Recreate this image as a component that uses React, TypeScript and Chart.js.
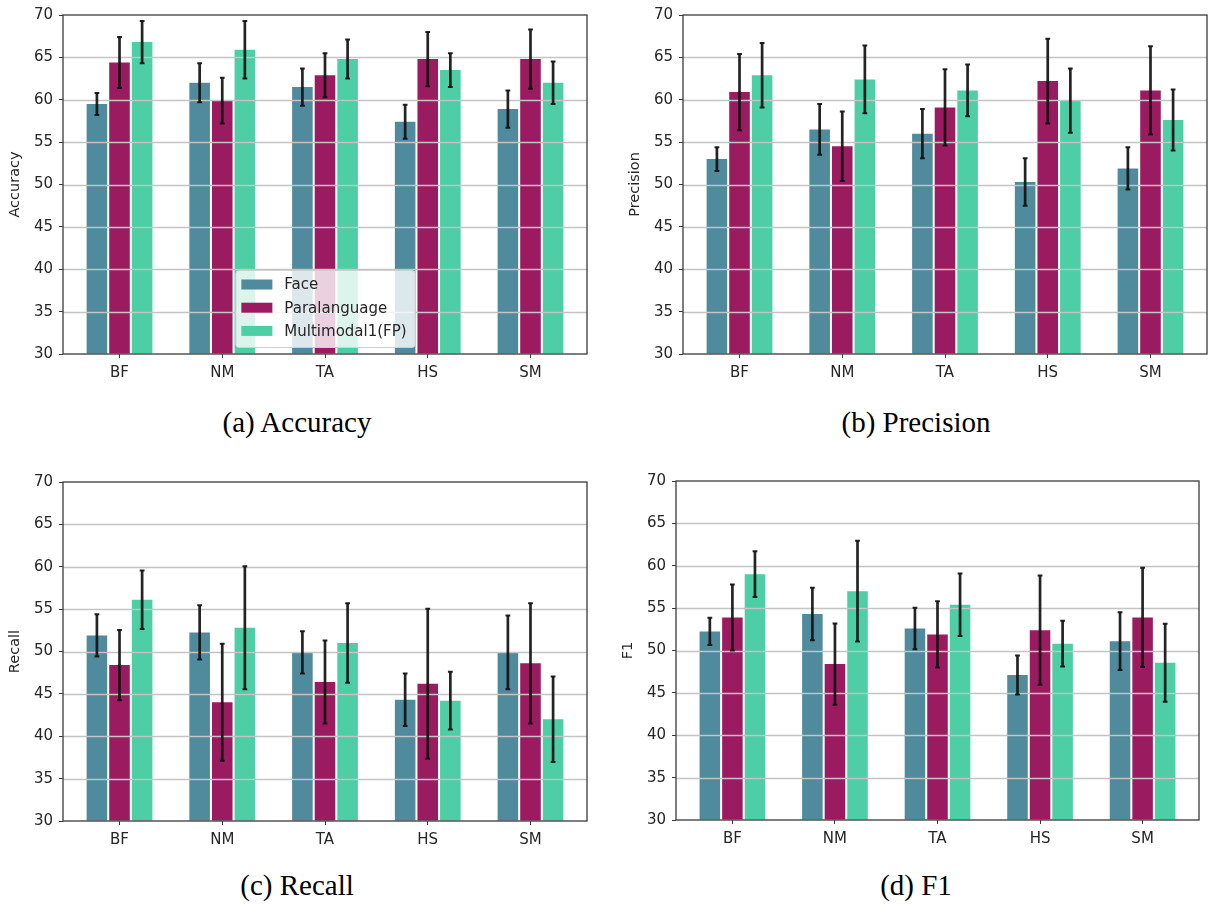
import React, { useEffect, useRef } from "react";
import { Chart, registerables } from "chart.js";

Chart.register(...registerables);

// ---- shared labels ----
const categories = ["BF", "NM", "TA", "HS", "SM"];
const seriesNames = ["Face", "Paralanguage", "Multimodal1(FP)"];
const seriesColors = ["#4f8a9d", "#9b1b60", "#4dcea4"];
const yMin = 30;
const yMax = 70;
const yStep = 5;

// ---- Accuracy ----
const accFace = [59.5, 62.0, 61.5, 57.4, 58.9];
const accFaceErr = [1.3, 2.3, 2.2, 2.0, 2.2];
const accPara = [64.4, 59.9, 62.9, 64.8, 64.8];
const accParaErr = [3.0, 2.7, 2.6, 3.2, 3.5];
const accMulti = [66.8, 65.9, 64.8, 63.5, 62.0];
const accMultiErr = [2.5, 3.4, 2.3, 2.0, 2.5];

// ---- Precision ----
const precFace = [53.0, 56.5, 56.0, 50.3, 51.9];
const precFaceErr = [1.4, 3.0, 2.9, 2.8, 2.5];
const precPara = [60.9, 54.5, 59.1, 62.2, 61.1];
const precParaErr = [4.5, 4.1, 4.5, 5.0, 5.2];
const precMulti = [62.9, 62.4, 61.1, 59.9, 57.6];
const precMultiErr = [3.8, 4.0, 3.05, 3.8, 3.6];

// ---- Recall ----
const recFace = [51.9, 52.25, 49.9, 44.3, 49.9];
const recFaceErr = [2.5, 3.2, 2.5, 3.1, 4.35];
const recPara = [48.4, 44.0, 46.4, 46.2, 48.6];
const recParaErr = [4.15, 6.9, 4.9, 8.85, 7.1];
const recMulti = [56.1, 52.8, 51.0, 44.2, 42.0];
const recMultiErr = [3.45, 7.25, 4.7, 3.4, 5.05];

// ---- F1 ----
const f1Face = [52.25, 54.3, 52.6, 47.1, 51.1];
const f1FaceErr = [1.6, 3.1, 2.45, 2.3, 3.4];
const f1Para = [53.9, 48.4, 51.9, 52.4, 53.9];
const f1ParaErr = [3.9, 4.8, 3.9, 6.45, 5.85];
const f1Multi = [59.0, 57.0, 55.4, 50.8, 48.55];
const f1MultiErr = [2.7, 5.95, 3.7, 2.7, 4.6];

const TEXT = "#262626";
const SANS = "'DejaVu Sans', sans-serif";
const Y_AXIS_W = 63;
const X_AXIS_H = 41;
const PAD_TOP = 14;
const PAD_RIGHT = 6;

type Area = { l: number; t: number; r: number; b: number };

type PanelProps = {
  yLabel: string;
  values: number[][];
  errors: number[][];
  area: Area;
  showLegend?: boolean;
};

function Panel({ yLabel, values, errors, area, showLegend }: PanelProps) {
  const ref = useRef<HTMLCanvasElement | null>(null);
  const left = area.l - Y_AXIS_W;
  const top = area.t - PAD_TOP;
  const width = area.r - area.l + Y_AXIS_W + PAD_RIGHT;
  const height = area.b - area.t + PAD_TOP + X_AXIS_H;

  useEffect(() => {
    if (!ref.current) return;

    const decor = {
      id: "panelDecor",
      afterDatasetsDraw(chart: any) {
        const { ctx, chartArea: a } = chart;
        const ys = chart.scales.y;
        ctx.save();
        // horizontal grid, drawn over the bars
        ctx.strokeStyle = "#c4c4c4";
        ctx.lineWidth = 1.5;
        for (let v = yMin + yStep; v < yMax; v += yStep) {
          const py = Math.round(ys.getPixelForValue(v)) + 0.5;
          ctx.beginPath();
          ctx.moveTo(a.left, py);
          ctx.lineTo(a.right, py);
          ctx.stroke();
        }
        // error bars with small caps
        ctx.strokeStyle = "rgba(17,17,17,0.92)";
        errors.forEach((errArr, di) => {
          const meta = chart.getDatasetMeta(di);
          meta.data.forEach((bar: any, i: number) => {
            const v = values[di][i];
            const e = errArr[i];
            const x = bar.x;
            const y1 = ys.getPixelForValue(v + e);
            const y2 = ys.getPixelForValue(v - e);
            ctx.lineWidth = 2.7;
            ctx.beginPath();
            ctx.moveTo(x, y1);
            ctx.lineTo(x, y2);
            ctx.stroke();
            ctx.lineWidth = 2;
            ctx.beginPath();
            ctx.moveTo(x - 2.4, y1);
            ctx.lineTo(x + 2.4, y1);
            ctx.moveTo(x - 2.4, y2);
            ctx.lineTo(x + 2.4, y2);
            ctx.stroke();
          });
        });
        // axes frame
        ctx.strokeStyle = "#3a3a3a";
        ctx.lineWidth = 1.3;
        ctx.strokeRect(a.left, a.top, a.right - a.left, a.bottom - a.top);
        ctx.restore();
      },
      afterDraw(chart: any) {
        if (!showLegend) return;
        const { ctx, chartArea: a } = chart;
        ctx.save();
        ctx.font = `15px ${SANS}`;
        const textW = Math.max(...seriesNames.map((n) => ctx.measureText(n).width));
        const padL = 6;
        const swW = 31;
        const swH = 10;
        const gap = 12;
        const boxW = padL + swW + gap + textW + 8;
        const rowH = 23.2;
        const boxH = 77;
        const bx = (a.left + a.right) / 2 - boxW / 2;
        const by = a.bottom - 7 - boxH;
        ctx.fillStyle = "rgba(255,255,255,0.8)";
        ctx.strokeStyle = "#d0d0d0";
        ctx.lineWidth = 1;
        ctx.beginPath();
        (ctx as any).roundRect(bx + 0.5, by + 0.5, boxW, boxH, 3);
        ctx.fill();
        ctx.stroke();
        seriesNames.forEach((name, i) => {
          const cy = by + 14.5 + i * rowH;
          ctx.fillStyle = seriesColors[i];
          ctx.fillRect(bx + padL, cy - swH / 2, swW, swH);
          ctx.fillStyle = TEXT;
          ctx.textBaseline = "middle";
          ctx.textAlign = "left";
          ctx.fillText(name, bx + padL + swW + gap, cy + 1);
        });
        ctx.restore();
      },
    };

    const tickFont = { family: SANS, size: 15 };
    const chart = new Chart(ref.current, {
      type: "bar",
      data: {
        datasets: values.map((vals, di) => ({
          label: seriesNames[di],
          data: vals.map((v, i) => ({ x: i, y: v })),
          backgroundColor: seriesColors[di],
          borderWidth: 0,
          base: yMin,
          categoryPercentage: 0.66,
          barPercentage: 0.91,
        })),
      },
      options: {
        responsive: false,
        animation: false,
        events: [],
        layout: { padding: { top: PAD_TOP, right: PAD_RIGHT, left: 0, bottom: 0 } },
        plugins: { legend: { display: false }, tooltip: { enabled: false } },
        scales: {
          x: {
            type: "linear",
            min: -0.55,
            max: categories.length - 1 + 0.55,
            offset: false,
            afterBuildTicks: (s: any) => {
              s.ticks = categories.map((_, i) => ({ value: i }));
            },
            afterFit: (s: any) => {
              s.height = X_AXIS_H;
            },
            ticks: {
              autoSkip: false,
              maxRotation: 0,
              padding: 6,
              color: TEXT,
              font: tickFont,
              callback: (v: any) => categories[Math.round(Number(v))] ?? "",
            },
            grid: {
              display: true,
              drawOnChartArea: false,
              drawTicks: true,
              tickLength: 4,
              color: "#3a3a3a",
              tickColor: "#3a3a3a",
              offset: false,
            },
            border: { display: false },
          },
          y: {
            type: "linear",
            min: yMin,
            max: yMax,
            afterFit: (s: any) => {
              s.width = Y_AXIS_W;
            },
            ticks: { stepSize: yStep, padding: 6, color: TEXT, font: tickFont },
            grid: {
              display: true,
              drawOnChartArea: false,
              drawTicks: true,
              tickLength: 4,
              color: "#3a3a3a",
              tickColor: "#3a3a3a",
            },
            border: { display: false },
            title: {
              display: true,
              text: yLabel,
              color: TEXT,
              font: { family: SANS, size: 14.5 },
              padding: { top: 7, bottom: 0 },
            },
          },
        },
      } as any,
      plugins: [decor],
    });
    return () => chart.destroy();
  }, []);

  return (
    <canvas
      ref={ref}
      width={width}
      height={height}
      style={{ position: "absolute", left, top, width, height, display: "block" }}
    />
  );
}

function Caption({ text, cx, cy }: { text: string; cx: number; cy: number }) {
  return (
    <div
      style={{
        position: "absolute",
        left: cx - 150,
        top: cy - 17,
        width: 300,
        textAlign: "center",
        fontFamily: "'Liberation Serif', 'Times New Roman', serif",
        fontSize: 29,
        lineHeight: "34px",
        color: "#000",
        whiteSpace: "nowrap",
      }}
    >
      {text}
    </div>
  );
}

export default function App() {
  return (
    <div
      style={{
        position: "absolute",
        left: 0,
        top: 0,
        width: 1215,
        height: 906,
        background: "#fff",
        overflow: "hidden",
      }}
    >
      <Panel
        yLabel="Accuracy"
        values={[accFace, accPara, accMulti]}
        errors={[accFaceErr, accParaErr, accMultiErr]}
        area={{ l: 63, t: 14, r: 587, b: 354 }}
        showLegend
      />
      <Panel
        yLabel="Precision"
        values={[precFace, precPara, precMulti]}
        errors={[precFaceErr, precParaErr, precMultiErr]}
        area={{ l: 683, t: 14, r: 1207, b: 354 }}
      />
      <Panel
        yLabel="Recall"
        values={[recFace, recPara, recMulti]}
        errors={[recFaceErr, recParaErr, recMultiErr]}
        area={{ l: 63, t: 481, r: 587, b: 821 }}
      />
      <Panel
        yLabel="F1"
        values={[f1Face, f1Para, f1Multi]}
        errors={[f1FaceErr, f1ParaErr, f1MultiErr]}
        area={{ l: 676, t: 480, r: 1199, b: 820 }}
      />
      <Caption text="(a) Accuracy" cx={297} cy={422} />
      <Caption text="(b) Precision" cx={916} cy={422} />
      <Caption text="(c) Recall" cx={297} cy={885} />
      <Caption text="(d) F1" cx={916} cy={885} />
    </div>
  );
}
